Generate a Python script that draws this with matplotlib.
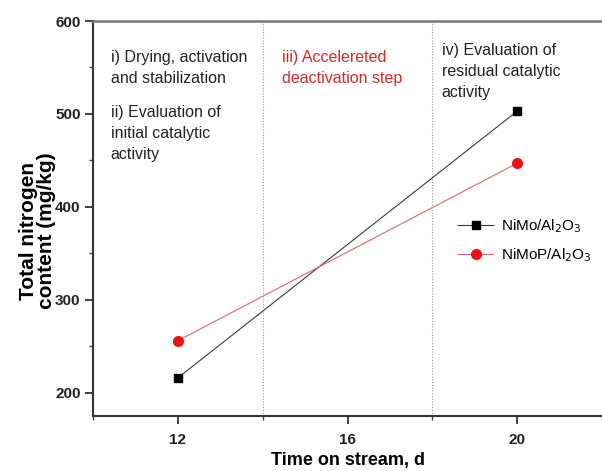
import matplotlib
matplotlib.use("Agg")
import matplotlib.pyplot as plt
from matplotlib.ticker import MultipleLocator

plt.rcParams['font.family'] = ['Liberation Sans', 'DejaVu Sans']

# Time on stream (days) and total nitrogen content (mg/kg)
time_days = [12, 20]
nimo = [216, 503]
nimop = [256, 447]
series_labels = ['NiMo/Al$_2$O$_3$', 'NiMoP/Al$_2$O$_3$']
stage_bounds = [14, 18]
x_ticks = [12, 16, 20]
y_ticks = [200, 300, 400, 500, 600]

fig = plt.figure(figsize=(6.02, 4.71), dpi=100)
ax = fig.add_axes([0.1545, 0.1168, 0.8455, 0.8386])

ax.plot(time_days, nimo, color='#3a3a3a', lw=0.8, marker='s', ms=5.5,
        mfc='black', mec='black', label=series_labels[0])
ax.plot(time_days, nimop, color='#d86a6a', lw=0.8, marker='o', ms=7,
        mfc='#ee1111', mec='#ee1111', label=series_labels[1])

for xb in stage_bounds:
    ax.axvline(xb, color='#9a9a9a', lw=0.8, ls=(0, (1, 1.5)), zorder=0)

ax.set_xlim(10, 22)
ax.set_ylim(175, 600)
ax.set_xticks(x_ticks)
ax.set_yticks(y_ticks)
ax.xaxis.set_minor_locator(MultipleLocator(2))
ax.yaxis.set_minor_locator(MultipleLocator(50))
ax.tick_params(which='major', direction='out', length=6, width=1.2,
               labelsize=11, pad=3, colors='#222222')
ax.tick_params(axis='x', which='major', pad=6.5)
ax.tick_params(which='minor', direction='out', length=3, width=1.0,
               colors='#444444')
for lbl in ax.get_xticklabels() + ax.get_yticklabels():
    lbl.set_fontweight('bold')

ax.spines['right'].set_visible(False)
ax.spines['left'].set_linewidth(1.5)
ax.spines['bottom'].set_linewidth(1.5)
ax.spines['left'].set_color('#333333')
ax.spines['bottom'].set_color('#333333')
ax.spines['top'].set_linewidth(1.8)
ax.spines['top'].set_color('#777777')

ax.set_xlabel('Time on stream, d', fontsize=13, fontweight='bold', labelpad=3)
ax.set_ylabel('Total nitrogen\ncontent (mg/kg)', fontsize=15,
              fontweight='bold', linespacing=0.95)
ax.yaxis.set_label_coords(-0.072, 0.468)

txt_kw = dict(fontsize=11.5, va='top', ha='left', linespacing=1.5,
              color='#222222')
ax.text(10.42, 569, 'i) Drying, activation\nand stabilization', **txt_kw)
ax.text(10.42, 510, 'ii) Evaluation of\ninitial catalytic\nactivity', **txt_kw)
ax.text(14.45, 569, 'iii) Accelereted\ndeactivation step',
        **{**txt_kw, 'color': '#d42a2a'})
ax.text(18.22, 576, 'iv) Evaluation of\nresidual catalytic\nactivity', **txt_kw)

ax.legend(loc='center left', bbox_to_anchor=(0.705, 0.443), frameon=False,
          fontsize=11, handlelength=2.3, handletextpad=0.5,
          labelspacing=0.75, borderaxespad=0)

fig.savefig('out.png', dpi=100)
